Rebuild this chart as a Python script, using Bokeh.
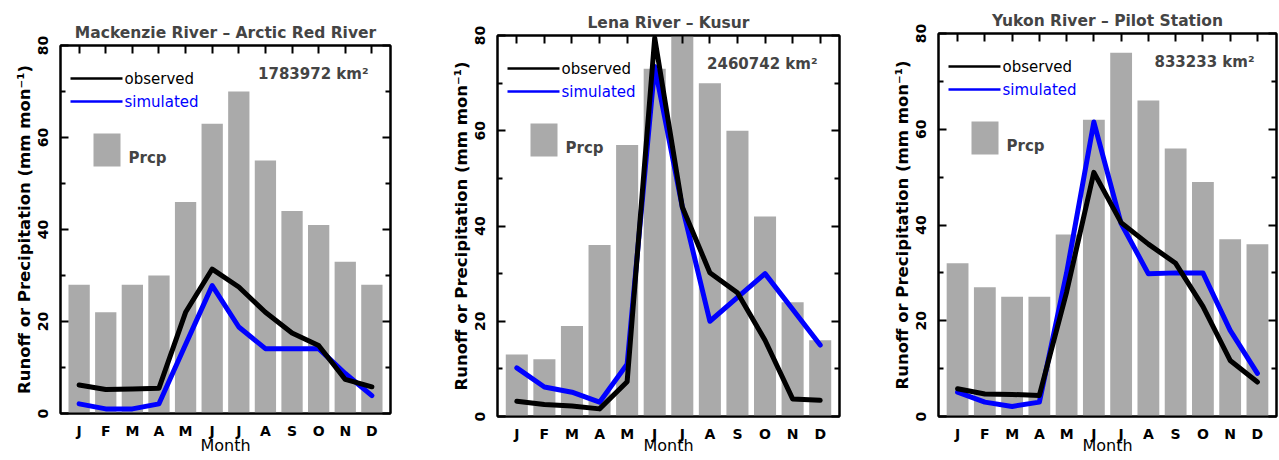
from bokeh.plotting import figure
from bokeh.layouts import row
from bokeh.models import (LinearAxis, FixedTicker, Range1d, Label, Arrow, BoxAnnotation)
from bokeh.embed import file_html
from bokeh.resources import INLINE

# ---------------- data ----------------
months = ["J", "F", "M", "A", "M", "J", "J", "A", "S", "O", "N", "D"]
month_num = list(range(1, 13))

titles = ["Mackenzie River \u2013 Arctic Red River",
          "Lena River \u2013 Kusur",
          "Yukon River \u2013 Pilot Station"]
areas = ["1783972 km\u00b2", "2460742 km\u00b2", "833233 km\u00b2"]

mackenzie_prcp = [28, 22, 28, 30, 46, 63, 70, 55, 44, 41, 33, 28]
mackenzie_obs = [6.2, 5.2, 5.3, 5.5, 22, 31.4, 27.5, 22, 17.5, 14.8, 7.4, 5.8]
mackenzie_sim = [2.1, 1.0, 1.0, 2.1, 15, 27.8, 18.8, 14.1, 14.1, 14.1, 8.7, 3.9]

lena_prcp = [13, 12, 19, 36, 57, 73, 80, 70, 60, 42, 24, 16]
lena_obs = [3.2, 2.5, 2.2, 1.6, 7.3, 79.5, 44, 30.2, 26, 16, 3.7, 3.4]
lena_sim = [10.2, 6.2, 5.1, 3.0, 11, 73.5, 44, 20, 25, 30, 22.5, 15]

yukon_prcp = [32, 27, 25, 25, 38, 62, 76, 66, 56, 49, 37, 36]
yukon_obs = [5.8, 4.7, 4.6, 4.4, 26, 51, 40.5, 36, 32, 23, 11.7, 7.2]
yukon_sim = [5.1, 3.0, 2.1, 3.0, 30, 61.5, 40.3, 29.8, 30, 30, 18, 9]

legend_labels = ["observed", "simulated", "Prcp"]
x_label = "Month"
y_label = "Runoff or Precipitation (mm mon\u207b\u00b9)"

FONT = "DejaVu Sans"
BAR = "#aaaaaa"
BLUE = "#0000ff"


def make_panel(title, area, prcp, obs, sim, w, h, bl, br, bt, bb, xlab_standoff):
    fw = w - bl - br
    fh = h - bt - bb
    p = figure(width=w, height=h,
               min_border_left=bl, min_border_right=br,
               min_border_top=bt, min_border_bottom=bb,
               x_range=Range1d(0.3, 12.7), y_range=Range1d(0, 80),
               output_backend="svg", toolbar_location=None,
               title=title)
    p.frame_align = False
    p.xgrid.visible = False
    p.ygrid.visible = False
    p.outline_line_color = "black"
    p.outline_line_width = 2
    p.background_fill_color = "white"
    p.border_fill_color = "white"

    p.title.text_font = FONT
    p.title.text_font_size = "15.5px"
    p.title.text_font_style = "bold"
    p.title.align = "center"
    p.title.standoff = 7

    p.vbar(x=month_num, top=prcp, width=0.8, fill_color=BAR, line_color=None)
    p.line(month_num, sim, line_color=BLUE, line_width=5, line_join="round", line_cap="round")
    p.line(month_num, obs, line_color="black", line_width=5, line_join="round", line_cap="round")

    month_ticker = FixedTicker(ticks=month_num)
    y_ticker = FixedTicker(ticks=[0, 20, 40, 60, 80], minor_ticks=[10, 30, 50, 70])

    xa = p.xaxis[0]
    xa.ticker = month_ticker
    xa.major_label_overrides = {m: lab for m, lab in zip(month_num, months)}
    xa.major_tick_in = 0
    xa.major_tick_out = 0
    xa.minor_tick_in = 0
    xa.minor_tick_out = 0
    xa.axis_line_width = 2
    xa.major_label_text_font = FONT
    xa.major_label_text_font_size = "14px"
    xa.major_label_text_font_style = "bold"
    xa.major_label_text_color = "black"
    xa.major_label_standoff = 9
    xa.axis_label = x_label
    xa.axis_label_text_font = FONT
    xa.axis_label_text_font_size = "16px"
    xa.axis_label_text_font_style = "normal"
    xa.axis_label_text_color = "black"
    xa.axis_label_standoff = xlab_standoff

    ya = p.yaxis[0]
    ya.ticker = y_ticker
    ya.major_tick_in = 8
    ya.major_tick_out = 0
    ya.minor_tick_in = 5
    ya.minor_tick_out = 0
    ya.axis_line_width = 2
    ya.major_tick_line_width = 2
    ya.minor_tick_line_width = 2
    ya.major_label_orientation = "vertical"
    ya.major_label_text_font = FONT
    ya.major_label_text_font_size = "14px"
    ya.major_label_text_font_style = "bold"
    ya.major_label_text_color = "black"
    ya.major_label_standoff = 13
    ya.axis_label = y_label
    ya.axis_label_text_font = FONT
    ya.axis_label_text_font_size = "16.5px"
    ya.axis_label_text_font_style = "bold"
    ya.axis_label_text_color = "black"
    ya.axis_label_standoff = 1

    ra = LinearAxis(ticker=y_ticker, major_tick_in=8, major_tick_out=0,
                    minor_tick_in=5, minor_tick_out=0, axis_line_width=2,
                    major_tick_line_width=2, minor_tick_line_width=2,
                    major_label_text_color=None, major_label_text_font_size="1px",
                    major_label_standoff=0)
    p.add_layout(ra, "right")
    ta = LinearAxis(ticker=month_ticker, major_tick_in=8, major_tick_out=0,
                    minor_tick_in=0, minor_tick_out=0, axis_line_width=2,
                    major_tick_line_width=2,
                    major_label_text_color=None, major_label_text_font_size="1px",
                    major_label_standoff=0)
    p.add_layout(ta, "above")

    # ---- in-plot key (screen units, relative to the frame) ----
    for off, col, lab in ((33, "black", legend_labels[0]), (56, BLUE, legend_labels[1])):
        p.add_layout(Arrow(x_start=10, y_start=fh - off, x_end=62, y_end=fh - off,
                           start_units="screen", end_units="screen",
                           start=None, end=None, line_color=col, line_width=2.5))
        p.add_layout(Label(x=64, y=fh - off, x_units="screen", y_units="screen",
                           text=lab, text_baseline="alphabetic", text_color=col,
                           text_font=FONT, text_font_size="15px"))
    p.add_layout(BoxAnnotation(left=33, right=60, top=fh - 88, bottom=fh - 121,
                               left_units="screen", right_units="screen",
                               top_units="screen", bottom_units="screen",
                               fill_color=BAR, fill_alpha=1.0, line_color=None))
    p.add_layout(Label(x=68, y=fh - 112, x_units="screen", y_units="screen",
                       text=legend_labels[2], text_baseline="middle",
                       text_font=FONT, text_font_size="15px", text_font_style="bold"))

    p.add_layout(Label(x=fw - 22, y=fh - 28, x_units="screen", y_units="screen",
                       text=area, text_align="right", text_baseline="middle",
                       text_font=FONT, text_font_size="15px", text_font_style="bold"))
    return p


p1 = make_panel(titles[0], areas[0], mackenzie_prcp, mackenzie_obs, mackenzie_sim,
                436, 460, 60, 46, 45, 47, -6)
p2 = make_panel(titles[1], areas[1], lena_prcp, lena_obs, lena_sim,
                442, 460, 61, 39, 35, 44, -9)
p3 = make_panel(titles[2], areas[2], yukon_prcp, yukon_obs, yukon_sim,
                400, 460, 60, 2, 33, 44, -9)

layout = row(p1, p2, p3)
open("out.html", "w").write(file_html(layout, INLINE))
